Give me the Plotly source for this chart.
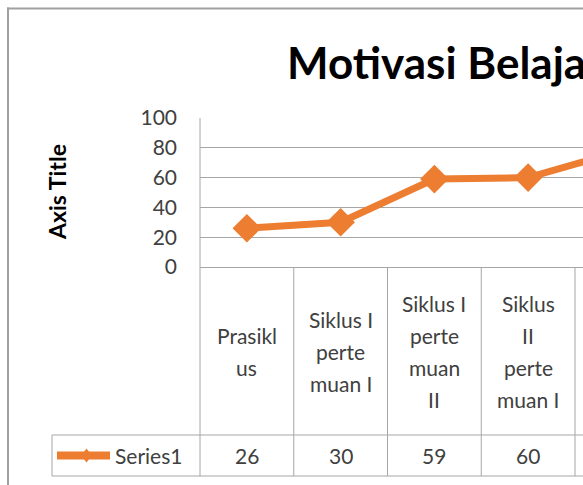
import plotly.graph_objects as go

# ---- data ----
categories = [
    "Prasikl<br>us",
    "Siklus I<br>perte<br>muan I",
    "Siklus I<br>perte<br>muan<br>II",
    "Siklus<br>II<br>perte<br>muan I",
    "Siklus<br>II<br>perte<br>muan<br>II",
]
values = [26, 30, 59, 60, 78]
series_name = "Series1"
title_text = "Motivasi Belajar Siswa"
y_title = "Axis Title"
y_ticks = [0, 20, 40, 60, 80, 100]

# ---- layout geometry (page pixels) ----
PAGE_W, PAGE_H = 583, 485
W, H = PAGE_W, PAGE_H
PL = 200                        # plot left
PT, PB = 118, 267               # plot top / bottom
ROW1_BOT, ROW2_BOT = 435, 476   # data-table rows
LEG_LEFT = 52
COL_W = 93.75
PW = W - PL
PH = PB - PT

def px(xp):
    return (xp - PL) / PW

def py(yp):
    return (PB - yp) / PH

ORANGE = "#ED7D31"
GRID = "#A6A6A6"
TXT = "#404040"
FONT = "Lato"

x_idx = list(range(len(values)))

fig = go.Figure()
fig.add_trace(go.Scatter(
    x=x_idx, y=values, mode="lines+markers", name=series_name,
    line=dict(color=ORANGE, width=7),
    marker=dict(symbol="diamond", size=22, color=ORANGE),
    showlegend=False, cliponaxis=True, hoverinfo="skip",
))

shapes = []
annotations = []

# chart outer border (left and top visible)
BX, BY = 8, 8.5
shapes.append(dict(type="line", xref="paper", yref="paper",
                   x0=px(BX - 1), x1=px(PAGE_W + 5), y0=py(BY), y1=py(BY),
                   line=dict(color="#A0A0A0", width=2)))
shapes.append(dict(type="line", xref="paper", yref="paper",
                   x0=px(BX), x1=px(BX), y0=py(BY - 1), y1=py(PAGE_H + 5),
                   line=dict(color="#A0A0A0", width=2)))

# data table grid
shapes.append(dict(type="line", xref="paper", yref="paper",
                   x0=0, x1=0, y0=1, y1=py(ROW2_BOT),
                   line=dict(color=GRID, width=1)))
for yline in (ROW1_BOT, ROW2_BOT):
    shapes.append(dict(type="line", xref="paper", yref="paper",
                       x0=px(LEG_LEFT), x1=1.05, y0=py(yline), y1=py(yline),
                       line=dict(color=GRID, width=1)))
shapes.append(dict(type="line", xref="paper", yref="paper",
                   x0=px(LEG_LEFT), x1=px(LEG_LEFT), y0=py(ROW1_BOT), y1=py(ROW2_BOT),
                   line=dict(color=GRID, width=1)))
for i in x_idx:
    shapes.append(dict(type="line", xref="x", yref="paper",
                       x0=i + 0.5, x1=i + 0.5, y0=0, y1=py(ROW2_BOT),
                       line=dict(color=GRID, width=1)))

# category labels, line by line
LINE_H = 32
cat_center = (PB + ROW1_BOT) / 2
for i, lab in enumerate(categories):
    lines = lab.split("<br>")
    n = len(lines)
    for k, t in enumerate(lines):
        yc = cat_center + (k - (n - 1) / 2) * LINE_H
        annotations.append(dict(xref="x", yref="paper", x=i, y=py(yc),
                                text=t, showarrow=False, xanchor="center", yanchor="middle",
                                font=dict(family=FONT, size=21, color=TXT)))

# values row
val_center = (ROW1_BOT + ROW2_BOT) / 2
for i, v in enumerate(values):
    annotations.append(dict(xref="x", yref="paper", x=i, y=py(val_center),
                            text=str(v), showarrow=False, xanchor="center", yanchor="middle",
                            font=dict(family=FONT, size=21, color=TXT)))

# legend key in table
shapes.append(dict(type="line", xref="paper", yref="paper",
                   x0=px(57), x1=px(110), y0=py(val_center), y1=py(val_center),
                   line=dict(color=ORANGE, width=8)))
kx, ky, kr = 86.5, val_center, 7
shapes.append(dict(type="path", xref="paper", yref="paper",
                   path=f"M {px(kx)},{py(ky - kr)} L {px(kx + kr*0.75)},{py(ky)} "
                        f"L {px(kx)},{py(ky + kr)} L {px(kx - kr*0.75)},{py(ky)} Z",
                   fillcolor=ORANGE, line=dict(width=0)))
annotations.append(dict(xref="paper", yref="paper", x=px(113), y=py(val_center),
                        text=series_name, showarrow=False, xanchor="left", yanchor="middle",
                        font=dict(family=FONT, size=21, color=TXT)))

# title
annotations.append(dict(xref="paper", yref="paper", x=px(285), y=py(62),
                        text=f"<b>{title_text}</b>", showarrow=False,
                        xanchor="left", yanchor="middle",
                        font=dict(family=FONT, size=44, color="#000000")))
# y axis title
annotations.append(dict(xref="paper", yref="paper", x=px(57), y=py(192),
                        text=f"<b>{y_title}</b>", showarrow=False, textangle=-90,
                        xanchor="center", yanchor="middle",
                        font=dict(family=FONT, size=23, color="#000000")))

fig.update_layout(
    width=W, height=H,
    margin=dict(l=PL, r=0, t=PT, b=H - PB, pad=0),
    paper_bgcolor="white", plot_bgcolor="white",
    shapes=shapes, annotations=annotations,
    showlegend=False, hovermode=False,
)
fig.update_xaxes(range=[-0.5, -0.5 + PW / COL_W], showticklabels=False,
                 showgrid=False, zeroline=False, showline=True,
                 linecolor=GRID, linewidth=1, fixedrange=True)
fig.update_yaxes(range=[0, 100], tickvals=y_ticks, showgrid=True, gridcolor=GRID,
                 gridwidth=1, zeroline=False, showline=False,
                 ticks="", ticklabelstandoff=22,
                 tickfont=dict(family=FONT, size=21, color=TXT), fixedrange=True)

fig.write_html(
    "out.html",
    config={"displayModeBar": False, "staticPlot": True},
    post_script="document.body.style.margin='0';document.body.style.overflow='hidden';",
)
